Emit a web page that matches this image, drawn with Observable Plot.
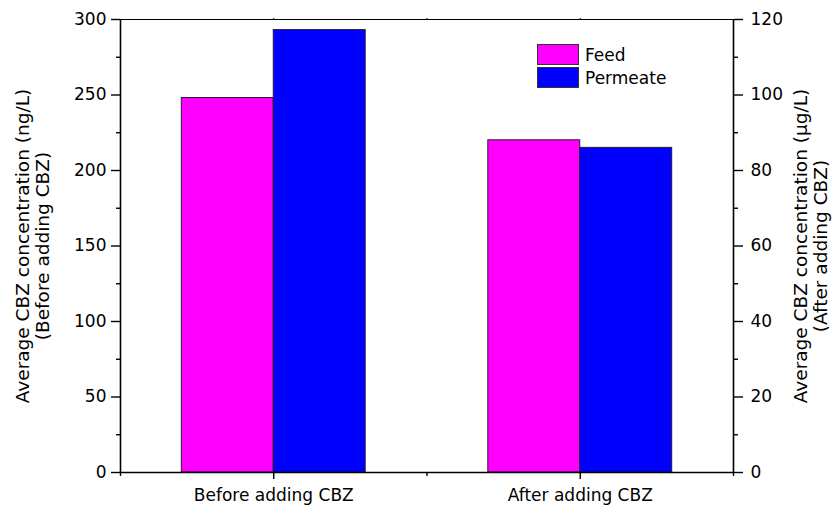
<!DOCTYPE html>
<html>
<head>
<meta charset="utf-8">
<script src="https://cdn.jsdelivr.net/npm/d3@7"></script>
<script src="https://cdn.jsdelivr.net/npm/@observablehq/plot@0.6"></script>
<style>
  html, body { margin: 0; padding: 0; background: #fff; }
  #wrap { position: relative; width: 832px; height: 509px; font-family: "DejaVu Sans", sans-serif; }
  .legend { position: absolute; left: 537px; top: 44px; font-size: 17px; color: #000; }
  .row { display: flex; align-items: center; height: 21px; margin-bottom: 2px; }
  .sw { width: 40px; height: 19px; border: 1px solid #333; margin-right: 6px; }
</style>
</head>
<body>
<div id="wrap"></div>
<script>
const groups = ["Before adding CBZ", "After adding CBZ"];
const series = ["Feed", "Permeate"];
const colors = ["#ff00ff", "#0000ff"];
// Before: ng/L (left axis); After: μg/L (right axis)
const feed = [248, 88];
const permeate = [293, 86];
const leftTicks = [0, 50, 100, 150, 200, 250, 300];
const leftMinor = [25, 75, 125, 175, 225, 275];
const rightTicks = [0, 20, 40, 60, 80, 100, 120];
const rightMinor = [10, 30, 50, 70, 90, 110];
const leftTitle = "Average CBZ concentration (ng/L)\n(Before adding CBZ)";
const rightTitle = "Average CBZ concentration (μg/L)\n(After adding CBZ)";

const k = 300 / 120; // right-axis to left-axis factor
const bw = 0.3;
const rows = [];
groups.forEach((g, i) => {
  const c = i + 1;
  const f = i === 0 ? 1 : k;
  rows.push({group: g, series: "Feed", x1: c - bw, x2: c, y: feed[i] * f});
  rows.push({group: g, series: "Permeate", x1: c, x2: c + bw, y: permeate[i] * f});
});

const chart = Plot.plot({
  width: 832,
  height: 509,
  marginLeft: 120,
  marginRight: 99,
  marginTop: 19,
  marginBottom: 37,
  style: {fontFamily: "'DejaVu Sans', sans-serif", fontSize: "17px", color: "#000", background: "#fff", overflow: "visible"},
  x: {type: "linear", domain: [0.5, 2.5]},
  y: {domain: [0, 300]},
  color: {domain: series, range: colors},
  marks: [
    Plot.rect(rows, {x1: "x1", x2: "x2", y1: 0, y2: "y", fill: "series", stroke: "#2a1a3a", strokeWidth: 1}),
    Plot.ruleY([300], {stroke: "#000", strokeWidth: 1}),
    Plot.ruleY([0], {stroke: "#000", strokeWidth: 1.6}),
    Plot.ruleX([0.5, 2.5], {stroke: "#000", strokeWidth: 1.6}),
    Plot.axisY(leftTicks, {anchor: "left", tickSize: 9, tickPadding: 5, strokeWidth: 1.4, label: null, fontSize: 17}),
    Plot.axisY(leftMinor, {anchor: "left", tickSize: 4, text: null, strokeWidth: 1.4, label: null}),
    Plot.axisY(rightTicks.map(d => d * k), {anchor: "right", tickSize: 9, tickPadding: 8, strokeWidth: 1.4, label: null, tickFormat: d => Math.round(d / k), fontSize: 17}),
    Plot.axisY(rightMinor.map(d => d * k), {anchor: "right", tickSize: 4, text: null, strokeWidth: 1.4, label: null}),
    Plot.axisX([1, 2], {anchor: "bottom", tickSize: 7, tickPadding: 9, strokeWidth: 1.4, label: null, tickFormat: d => groups[d - 1], fontSize: 17}),
    Plot.axisX([0.5, 1.5, 2.5], {anchor: "bottom", tickSize: 4, text: null, strokeWidth: 1.4, label: null}),
    Plot.axisX([1, 1.5, 2], {anchor: "top", tickSize: 2, text: null, strokeWidth: 1, label: null}),
    Plot.text([leftTitle], {frameAnchor: "left", textAnchor: "middle", dx: -88, rotate: -90, text: d => d, fontSize: 18.5, lineHeight: 1.1}),
    Plot.text([rightTitle], {frameAnchor: "right", textAnchor: "middle", dx: 77, rotate: -90, text: d => d, fontSize: 18.5, lineHeight: 1.1})
  ]
});

const wrap = document.getElementById("wrap");
wrap.appendChild(chart);
const legend = document.createElement("div");
legend.className = "legend";
series.forEach((s, i) => {
  const row = document.createElement("div");
  row.className = "row";
  const sw = document.createElement("div");
  sw.className = "sw";
  sw.style.background = colors[i];
  const t = document.createElement("span");
  t.textContent = s;
  row.appendChild(sw);
  row.appendChild(t);
  legend.appendChild(row);
});
wrap.appendChild(legend);
</script>
</body>
</html>
